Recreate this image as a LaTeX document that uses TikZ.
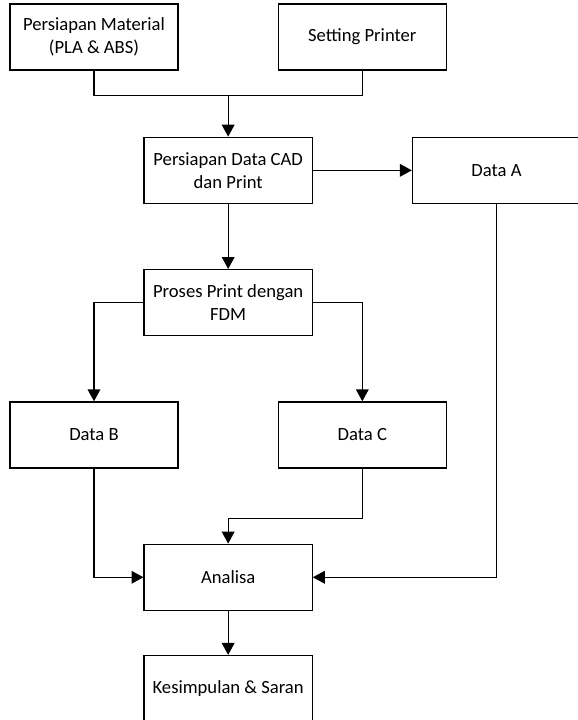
\documentclass[tikz,border=0pt]{standalone}
\usepackage{fontspec}
\setmainfont{Carlito}
\usetikzlibrary{positioning,calc,arrows.meta}

\begin{document}
\begin{tikzpicture}
  \tikzset{proc/.style={
      draw, line width=0.75pt, minimum width=3.36cm, minimum height=1.32cm,
      align=center, inner sep=2pt, font=\fontsize{10.6}{13.1}\selectfont
    },
    flow/.style={line width=0.75pt},
    flowarr/.style={flow, -{Triangle[length=6.8pt,width=7.2pt]}}
  }

  % page frame: first box sits at the origin
  \useasboundingbox (-1.88,0.74) rectangle ++(11.56,-14.4);

  \node[proc] (mat) at (0,0) {Persiapan Material\\(PLA \& ABS)};
  \node[proc, right=1.98cm of mat] (setprn) {Setting Printer};

  \coordinate (join) at ($ (mat.south)!.5!(setprn.south) + (0,-0.5) $);

  \node[proc, below=0.82cm of join] (cad) {Persiapan Data CAD\\dan Print};
  \node[proc, right=1.98cm of cad] (dataA) {Data A};
  \node[proc, below=1.3cm of cad] (fdm) {Proses Print dengan\\FDM};

  \node[proc, anchor=north] (dataB) at ($ (mat |- fdm.south) + (0,-1.3) $) {Data B};
  \node[proc, anchor=north] (dataC) at ($ (setprn |- fdm.south) + (0,-1.3) $) {Data C};

  \node[proc, anchor=north] (analisa) at ($ (fdm |- dataB.south) + (0,-1.5) $) {Analisa};
  \node[proc, below=0.88cm of analisa] (kes) {Kesimpulan \& Saran};

  \coordinate (cturn) at ($ (dataC.south) + (0,-1) $);

  \draw[flow] (mat) |- (join) -| (setprn);
  \draw[flowarr] (join) -- (cad);
  \draw[flowarr] (cad) -- (dataA);
  \draw[flowarr] (cad) -- (fdm);

  \draw[flowarr] (fdm) -| (dataB);
  \draw[flowarr] (fdm) -| (dataC);

  \draw[flowarr] (dataB) |- (analisa);
  \draw[flowarr] (dataC) -- (cturn) -| (analisa);
  \draw[flowarr] (dataA) |- (analisa);
  \draw[flowarr] (analisa) -- (kes);
\end{tikzpicture}
\end{document}
